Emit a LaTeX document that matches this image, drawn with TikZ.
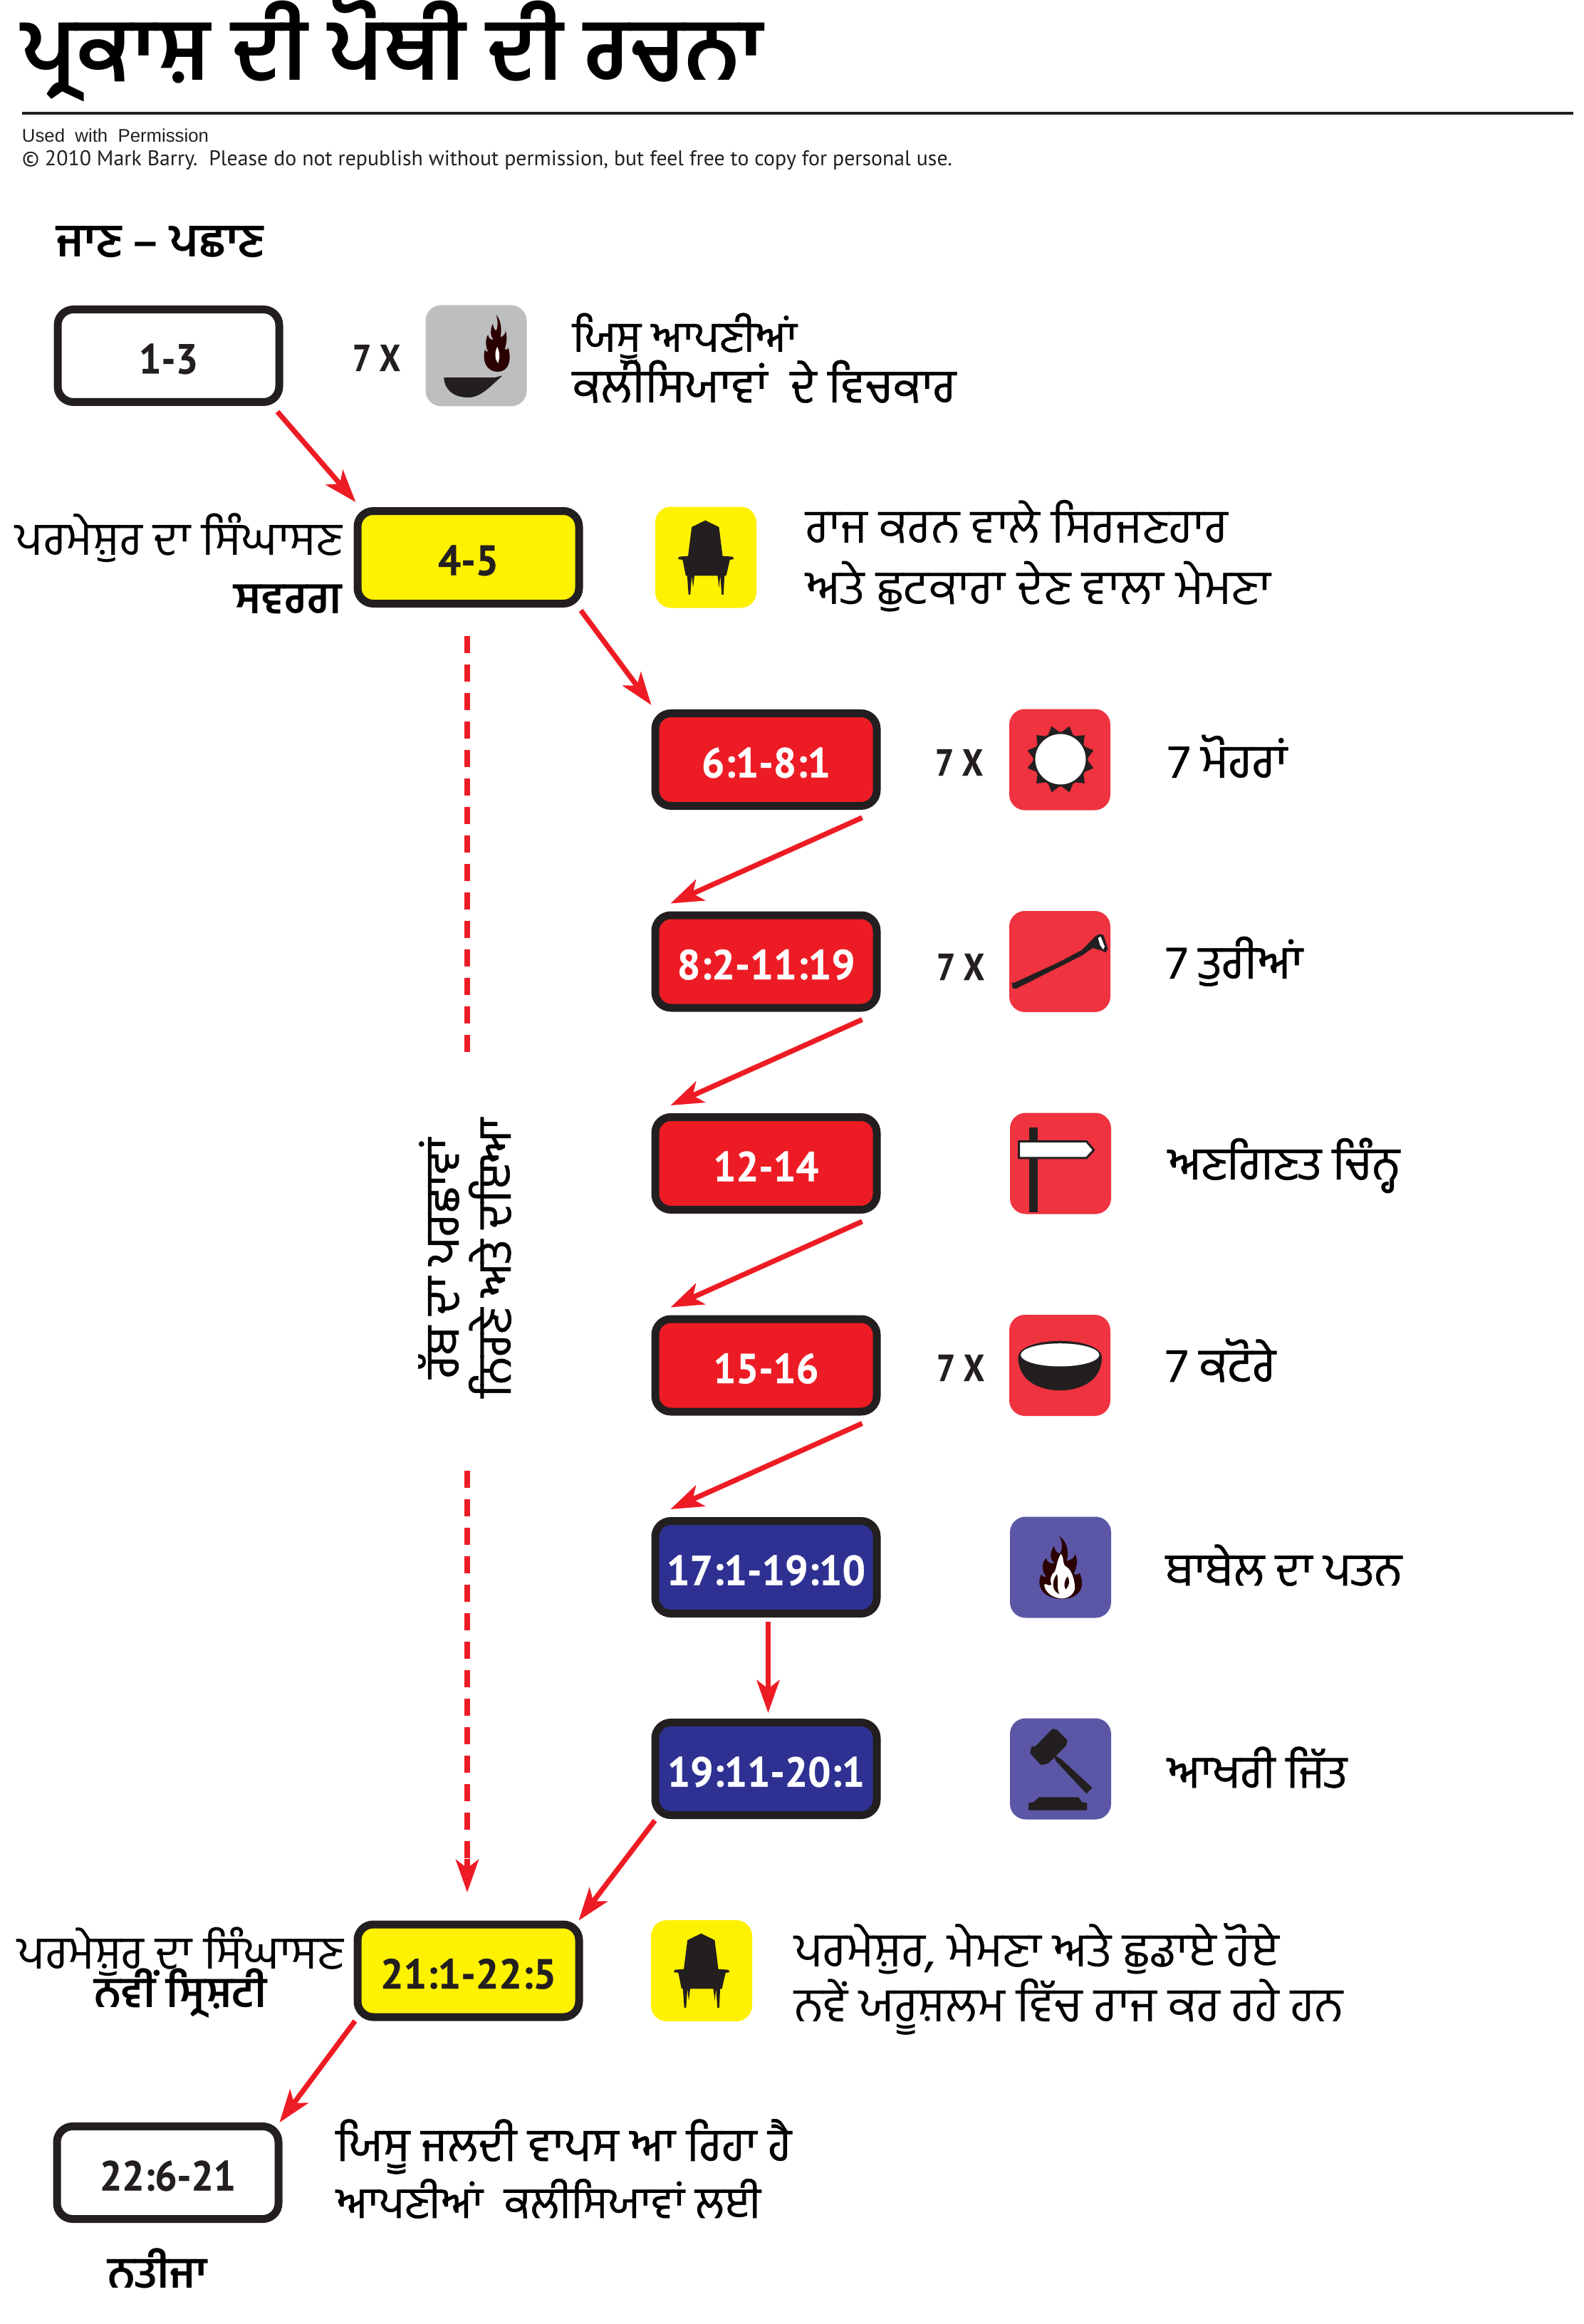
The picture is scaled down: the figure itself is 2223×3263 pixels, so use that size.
\documentclass[tikz,border=0pt]{standalone}
\usepackage{graphicx}
\usepackage{fontspec}
\usetikzlibrary{arrows.meta}
\newfontfamily\gur[Script=Gurmukhi]{Hind Jalandhar}
\newfontfamily\gurm[Script=Gurmukhi,FakeBold=0.7]{Hind Jalandhar}
\newfontfamily\din[BoldFeatures={FakeBold=0.6}]{PT Sans}
\newfontfamily\lib{Liberation Sans}
\definecolor{ink}{HTML}{231F20}
\definecolor{boxred}{HTML}{ED1C24}
\definecolor{iconred}{HTML}{EF3340}
\definecolor{boxblue}{HTML}{2E3192}
\definecolor{iconblue}{HTML}{5B57A6}
\definecolor{yel}{HTML}{FFF200}
\definecolor{grayicon}{HTML}{BCBEC0}
\definecolor{flamedark}{HTML}{2B0000}
\newcommand{\gt}[2]{\resizebox{\dimexpr #1pt/2\relax}{!}{\gur #2}}
\newcommand{\gm}[2]{\resizebox{\dimexpr #1pt/2\relax}{!}{\gurm #2}}
\newcommand{\gb}[2]{\resizebox{\dimexpr #1pt/2\relax}{!}{\gur\bfseries #2}}
\newcommand{\nm}[2]{\raisebox{0pt}[25pt][0pt]{\resizebox{\dimexpr #1pt/2\relax}{21pt}{\din\bfseries #2}}}
\newcommand{\sev}{\resizebox{33.5pt}{18.5pt}{\din\bfseries 7 X}}
\newcommand{\flamebody}{(420,321) .. controls (450,350) and (448,395) .. (443,425)
 .. controls (458,420) and (470,410) .. (468,395)
 .. controls (480,420) and (475,450) .. (465,480)
 .. controls (475,485) and (485,480) .. (483,473)
 .. controls (495,510) and (495,550) .. (468,572)
 .. controls (450,588) and (410,590) .. (385,572)
 .. controls (360,555) and (350,520) .. (362,482)
 .. controls (365,490) and (372,495) .. (378,490)
 .. controls (365,470) and (362,435) .. (378,413)
 .. controls (380,430) and (392,438) .. (405,435)
 .. controls (390,420) and (388,390) .. (403,362)
 .. controls (405,380) and (412,390) .. (420,395)
 .. controls (430,380) and (430,345) .. (420,321) -- cycle}
\newcommand{\thronepath}{(220,242) -- (250,270) -- (258,392) -- (280,395) -- (283,405) -- (274,408) -- (266,475) -- (262,475) -- (260,555) -- (256,555) -- (253,475) -- (250,525) -- (247,475) -- (196,475) -- (193,525) -- (190,475) -- (187,555) -- (183,555) -- (180,475) -- (177,475) -- (170,408) -- (160,405) -- (162,395) -- (182,392) -- (190,270) -- cycle}
\tikzset{
  x=0.5pt,y=-0.5pt,
  box/.style={draw=ink,line width=5.5pt,rounded corners=11pt,minimum width=155.5pt,minimum height=65pt,inner sep=0pt,text=ink},
  redbox/.style={box,fill=boxred,text=white},
  bluebox/.style={box,fill=boxblue,text=white},
  yelbox/.style={box,fill=yel},
  whitebox/.style={box,fill=white},
  icon/.style={rounded corners=11pt,minimum width=71pt,minimum height=71pt,inner sep=0pt,outer sep=0pt},
  txt/.style={anchor=base west,inner sep=0pt,outer sep=0pt,text=black,yshift=-2pt},
  rottxt/.style={anchor=base west,inner sep=0pt,outer sep=0pt,text=black,rotate=90},
  seven/.style={inner sep=0pt,outer sep=0pt,text=ink,anchor=south west},
  arr/.style={draw=boxred,line width=3.6pt,-{Stealth[length=23pt,width=16pt,inset=6pt]}},
  dash line/.style={draw=boxred,line width=4.2pt,dash pattern=on 12pt off 8pt},
}
\begin{document}
\begin{tikzpicture}
\useasboundingbox (0,0) rectangle (2223,3263);
\fill[white] (0,0) rectangle (2223,3263);

% heading
\node[txt] (title) at (31,109) {\gb{1040}{ਪ੍ਰਕਾਸ਼ ਦੀ ਪੋਥੀ ਦੀ ਰਚਨਾ}};
\draw[ink,line width=2.3pt] (31,159) -- (2209,159);
\node[txt,text=ink] (perm) at (31,196) {\resizebox{131pt}{!}{\lib Used\ \ with\ \ Permission}};
\node[txt,text=ink] (copy) at (31,229) {\resizebox{653pt}{!}{\din © 2010 Mark Barry.\ \ Please do not republish without permission, but feel free to copy for personal use.}};

% row 1-3
\node[txt] (t1) at (79,357) {\gb{291}{ਜਾਣ – ਪਛਾਣ}};
\node[whitebox] (b13) at (236.5,499.5) {\nm{83}{1-3}};
\node[seven] (s1) at (495,521) {\sev};
\node[icon,fill=grayicon] (i1) at (668.5,499.5) {};
\begin{scope}[xscale=0.8929,yscale=0.3827]
  \fill[ink] (698,1385) -- (778,1385) -- (790,1378) .. controls (770,1420) and (755,1460) .. (735,1458) .. controls (710,1458) and (698,1420) .. (698,1385) -- cycle;
\end{scope}
\begin{scope}[shift={(679,442)},xscale=0.27,yscale=0.303,shift={(-355,-321)}]
  \fill[flamedark] \flamebody;
  \fill[white] (425,470) .. controls (440,490) and (440,520) .. (430,545) .. controls (415,530) and (410,500) .. (425,470) -- cycle;
\end{scope}
\node[txt] (t2) at (804,490) {\gm{315}{ਯਿਸੂ ਆਪਣੀਆਂ}};
\node[txt] (t3) at (804,561) {\gm{538}{ਕਲੀਸਿਯਾਵਾਂ\ \ ਦੇ ਵਿਚਕਾਰ}};

% row 4-5
\node[txt] (t4) at (22,775) {\gt{458}{ਪਰਮੇਸ਼ੁਰ ਦਾ ਸਿੰਘਾਸਣ}};
\node[txt] (t5) at (328,857) {\gb{152}{ਸਵਰਗ}};
\node[yelbox] (b45) at (657.5,782.5) {\nm{85}{4-5}};
\node[icon,fill=yel] (i2) at (991,782.5) {};
\begin{scope}[shift={(850,650)},xscale=0.6378,yscale=0.3333]
  \fill[ink] \thronepath;
\end{scope}
\node[txt] (t6) at (1131,758) {\gt{593}{ਰਾਜ ਕਰਨ ਵਾਲੇ ਸਿਰਜਣਹਾਰ}};
\node[txt] (t7) at (1131,844) {\gt{653}{ਅਤੇ ਛੁਟਕਾਰਾ ਦੇਣ ਵਾਲਾ ਮੇਮਣਾ}};

% red column
\node[redbox] (b61) at (1075.5,1066.5) {\nm{181}{6:1-8:1}};
\node[redbox] (b82) at (1075.5,1350) {\nm{250}{8:2-11:19}};
\node[redbox] (b12) at (1075.5,1633.5) {\nm{148}{12-14}};
\node[redbox] (b15) at (1075.5,1917) {\nm{148}{15-16}};
\node[bluebox] (b17) at (1075.5,2200.5) {\nm{279}{17:1-19:10}};
\node[bluebox] (b19) at (1075.5,2483.5) {\nm{277}{19:11-20:1}};

\node[seven] (s2) at (1313,1089) {\sev};
\node[seven] (s3) at (1315,1376) {\sev};
\node[seven] (s4) at (1315,1939) {\sev};

\node[icon,fill=iconred] (i3) at (1488,1066.5) {};
\node[icon,fill=iconred] (i4) at (1488,1350) {};
\node[icon,fill=iconred] (i5) at (1489,1633.5) {};
\node[icon,fill=iconred] (i6) at (1488,1917) {};
\node[icon,fill=iconblue] (i7) at (1489,2200.5) {};
\node[icon,fill=iconblue] (i8) at (1489,2483.5) {};

% sun
\begin{scope}[shift={(1489,1066)}]
  \foreach \a in {15,45,...,345}{\fill[ink] (\a-15:37) -- (\a:48) -- (\a+15:37) -- cycle;}
  \filldraw[fill=white,draw=ink,line width=1.5pt] (0,0) circle[radius=37];
\end{scope}
% crop-based icons
\begin{scope}[shift={(1200,950)},xscale=0.5102,yscale=0.7018]
  % horn
  \fill[ink] (432,613) -- (440,612) -- (560,572) -- (625,547) -- (662,520) -- (672,515) -- (685,517) -- (697,545) -- (690,552) -- (680,548) -- (655,543) -- (625,558) -- (560,582) -- (445,624) -- (435,624) -- cycle;
  \fill[white] (670,523) -- (677,520) -- (688,540) -- (684,546) -- (675,537) -- cycle;
  % signpost
  \fill[ink] (480,902) rectangle (503,1072);
  \filldraw[fill=white,draw=ink,line width=1.5pt] (452,930) -- (638,930) -- (658,947) -- (638,963) -- (452,963) -- cycle;
  % bowl
  \fill[ink] (450,1362) .. controls (450,1410) and (510,1428) .. (565,1428) .. controls (620,1428) and (680,1410) .. (680,1362) .. controls (680,1340) and (620,1329) .. (565,1329) .. controls (510,1329) and (450,1340) .. (450,1362) -- cycle;
  \fill[white] (565,1357) ellipse[x radius=108,y radius=23];
\end{scope}
% babylon flame
\begin{scope}[shift={(1300,2050)},xscale=0.4464,yscale=0.3333]
  \fill[flamedark] \flamebody;
  \fill[white] (425,395) .. controls (438,420) and (425,440) .. (445,452) .. controls (462,470) and (470,520) .. (468,545) .. controls (462,572) and (440,585) .. (425,583) .. controls (400,580) and (375,560) .. (372,525) .. controls (378,515) and (385,535) .. (395,525) .. controls (388,500) and (395,480) .. (405,470) .. controls (412,450) and (412,420) .. (425,395) -- cycle;
  \fill[flamedark] (412,480) .. controls (418,510) and (410,540) .. (420,565) .. controls (395,550) and (395,510) .. (412,480) -- cycle;
  \fill[flamedark] (445,490) .. controls (455,510) and (450,530) .. (440,545) .. controls (432,530) and (435,510) .. (445,490) -- cycle;
\end{scope}
% gavel
\begin{scope}[shift={(1300,2050)},xscale=0.4464,yscale=0.3333]
  \fill[ink] (398,1132) -- (412,1136) -- (445,1180) -- (441,1203) -- (385,1278) -- (362,1285) -- (328,1235) -- (332,1207) -- (345,1205) -- cycle;
  \fill[ink] (398,1235) -- (430,1265) -- (523,1380) -- (505,1405) -- (410,1270) -- cycle;
  \fill[ink] (355,1420) -- (480,1420) -- (490,1440) -- (507,1445) -- (507,1475) -- (323,1475) -- (323,1445) -- (340,1440) -- cycle;
\end{scope}

\node[txt] (t8) at (1640,1088) {\gm{167}{7 ਮੋਹਰਾਂ}};
\node[txt] (t9) at (1637,1370) {\gm{192}{7 ਤੁਰੀਆਂ}};
\node[txt] (t10) at (1640,1652) {\gm{325}{ਅਣਗਿਣਤ ਚਿੰਨ੍ਹ}};
\node[txt] (t11) at (1637,1936) {\gm{154}{7 ਕਟੋਰੇ}};
\node[txt] (t12) at (1637,2222) {\gm{331}{ਬਾਬੇਲ ਦਾ ਪਤਨ}};
\node[txt] (t13) at (1639,2506) {\gm{252}{ਆਖਰੀ ਜਿੱਤ}};

% rotated text
\node[rottxt] (r1) at (644,1935) {\gm{337}{ਰੱਬ ਦਾ ਪਰਛਾਵਾਂ}};
\node[rottxt] (r2) at (717,1962) {\gm{392}{ਨਿਰਣੇ ਅਤੇ ਦਇਆ}};

% lower rows
\node[txt] (t14) at (25,2760) {\gt{457}{ਪਰਮੇਸ਼ੁਰ ਦਾ ਸਿੰਘਾਸਣ}};
\node[txt] (t15) at (132,2814) {\gb{243}{ਨਵੀਂ ਸ੍ਰਿਸ਼ਟੀ}};
\node[yelbox] (b21) at (657.5,2767) {\nm{247}{21:1-22:5}};
\node[icon,fill=yel] (i9) at (985,2767) {};
\begin{scope}[shift={(844,2634)},xscale=0.6378,yscale=0.3333]
  \fill[ink] \thronepath;
\end{scope}
\node[txt] (t16) at (1115,2757) {\gt{679}{ਪਰਮੇਸ਼ੁਰ, ਮੇਮਣਾ ਅਤੇ ਛੁਡਾਏ ਹੋਏ}};
\node[txt] (t17) at (1115,2834) {\gt{771}{ਨਵੇਂ ਯਰੂਸ਼ਲਮ ਵਿੱਚ ਰਾਜ ਕਰ ਰਹੇ ਹਨ}};
\node[whitebox] (b22) at (235.5,3050.5) {\nm{191}{22:6-21}};
\node[txt] (t18) at (472,3030) {\gm{639}{ਯਿਸੂ ਜਲਦੀ ਵਾਪਸ ਆ ਰਿਹਾ ਹੈ}};
\node[txt] (t19) at (472,3110) {\gm{596}{ਆਪਣੀਆਂ\ \ ਕਲੀਸਿਯਾਵਾਂ ਲਈ}};
\node[txt] (t20) at (151,3208) {\gb{140}{ਨਤੀਜਾ}};

% connectors
\draw[arr] ([shift={(-8,8)}]b13.south east) -- ([shift={(3,-7)}]b45.north west);
\draw[arr] ([shift={(-3,4)}]b45.south east) -- ([shift={(0,-6)}]b61.north west);
\draw[arr] ([shift={(-26,11)}]b61.south east) -- ([shift={(27,-11)}]b82.north west);
\draw[arr] ([shift={(-26,11)}]b82.south east) -- ([shift={(27,-11)}]b12.north west);
\draw[arr] ([shift={(-26,11)}]b12.south east) -- ([shift={(27,-11)}]b15.north west);
\draw[arr] ([shift={(-26,11)}]b15.south east) -- ([shift={(27,-11)}]b17.north west);
\draw[arr] ([shift={(3,6)}]b17.south) -- ([shift={(3,-8)}]b19.north);
\draw[arr] ([shift={(5,2)}]b19.south west) -- ([shift={(-6,0)}]b21.north east);
\draw[arr] ([shift={(2,0)}]b21.south west) -- ([shift={(-4,0)}]b22.north east);
\coordinate (d1) at (656,893);
\coordinate (d2) at (656,1481);
\coordinate (d3) at (656,2065);
\coordinate (d3b) at (656,2620);
\coordinate (d3c) at (656,2610);
\coordinate (d4) at (656,2657);
\draw[dash line] (d1) -- (d2);
\draw[dash line] (d3) -- (d3b);
\draw[arr] (d3c) -- (d4);
\end{tikzpicture}
\end{document}
